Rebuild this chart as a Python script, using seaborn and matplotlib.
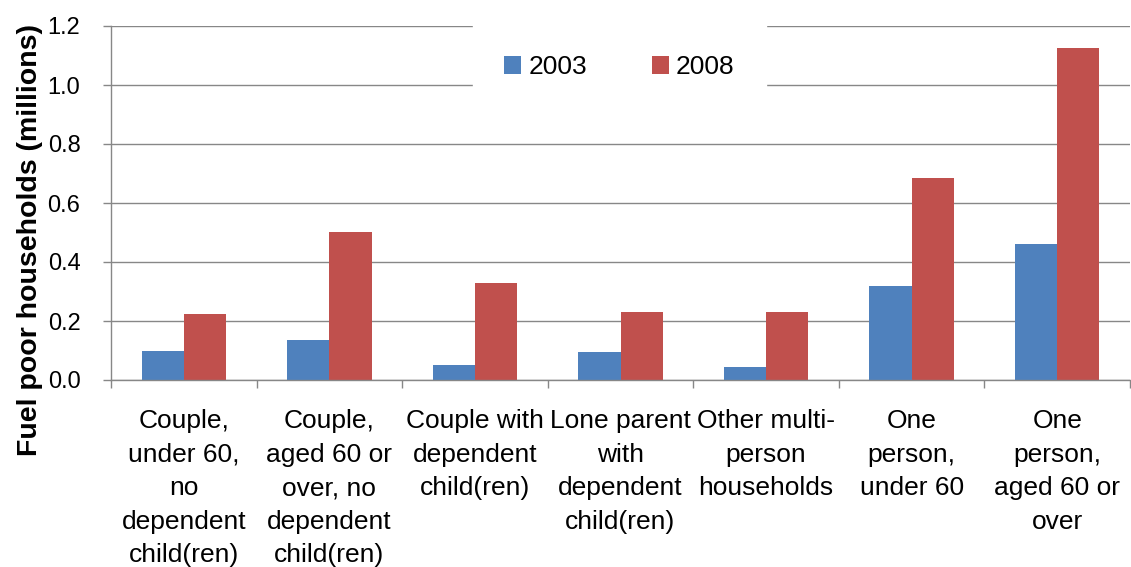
import matplotlib
matplotlib.use("Agg")
import matplotlib.pyplot as plt
import seaborn as sns
import pandas as pd
import numpy as np
from matplotlib.ticker import FixedLocator

categories = [
    "Couple,\nunder 60,\nno\ndependent\nchild(ren)",
    "Couple,\naged 60 or\nover, no\ndependent\nchild(ren)",
    "Couple with\ndependent\nchild(ren)",
    "Lone parent\nwith\ndependent\nchild(ren)",
    "Other multi-\nperson\nhouseholds",
    "One\nperson,\nunder 60",
    "One\nperson,\naged 60 or\nover",
]
values_2003 = [0.098, 0.136, 0.051, 0.095, 0.044, 0.319, 0.461]
values_2008 = [0.224, 0.502, 0.329, 0.231, 0.231, 0.685, 1.125]
years = ["2003", "2008"]
y_ticks = [0.0, 0.2, 0.4, 0.6, 0.8, 1.0, 1.2]
y_label = "Fuel poor households (millions)"
colors = ["#4F81BD", "#C0504D"]

df = pd.DataFrame({
    "category": categories * 2,
    "value": values_2003 + values_2008,
    "year": [years[0]] * len(categories) + [years[1]] * len(categories),
})

sns.set_style("white")
plt.rcParams["font.family"] = ["Liberation Sans", "DejaVu Sans"]
plt.rcParams["text.color"] = "black"
plt.rcParams["xtick.color"] = "black"
plt.rcParams["ytick.color"] = "black"
plt.rcParams["xtick.labelcolor"] = "black"
plt.rcParams["ytick.labelcolor"] = "black"

W, H = 1131, 567
fig = plt.figure(figsize=(W / 100, H / 100), dpi=100)
ax = fig.add_axes([111 / W, (H - 380) / H, (1130 - 111) / W, (380 - 26) / H])

sns.barplot(data=df, x="category", y="value", hue="year", order=categories,
            hue_order=years, palette=colors, saturation=1, width=0.58,
            linewidth=0, ax=ax, legend=True)

ax.set_ylim(0, 1.2)
ax.set_xlim(-0.5, len(categories) - 0.5)
ax.set_yticks(y_ticks)
ax.set_yticklabels([f"{t:.1f}" for t in y_ticks], fontsize=17, color="black")
ax.yaxis.grid(True, color="#878787", linewidth=1.0)
ax.set_axisbelow(True)
for s in ["top", "right"]:
    ax.spines[s].set_visible(False)
for s in ["left", "bottom"]:
    ax.spines[s].set_color("#878787")
    ax.spines[s].set_linewidth(1.0)

ax.tick_params(axis="y", direction="out", length=6, width=1.0, color="#878787", pad=16, left=True)
ax.tick_params(axis="x", which="major", length=0, pad=21, labelsize=19, labelcolor="black")
ax.xaxis.set_minor_locator(FixedLocator(np.arange(-0.5, len(categories), 1.0)))
ax.tick_params(axis="x", which="minor", direction="out", length=6, width=1.0, color="#878787", bottom=True)
for lab in ax.get_xticklabels():
    lab.set_linespacing(1.5)
    lab.set_horizontalalignment("center")
    lab.set_color("black")

ax.set_xlabel("")
ax.set_ylabel("")
fig.text(30 / W, 1 - 240 / H, y_label, rotation=90, fontsize=20.5, fontweight="bold",
         ha="center", va="center", color="black")

handles, labels = ax.get_legend_handles_labels()
leg = ax.legend(handles, labels, loc="center", bbox_to_anchor=(0.499, 0.884), ncol=2,
                fontsize=19, handlelength=0.65, handleheight=0.65, handletextpad=0.27,
                columnspacing=2.45, borderpad=1.2, frameon=True, fancybox=False,
                facecolor="white", edgecolor="white", framealpha=1)
for t in leg.get_texts():
    t.set_color("black")

fig.savefig("out.png", dpi=100, facecolor="white")
